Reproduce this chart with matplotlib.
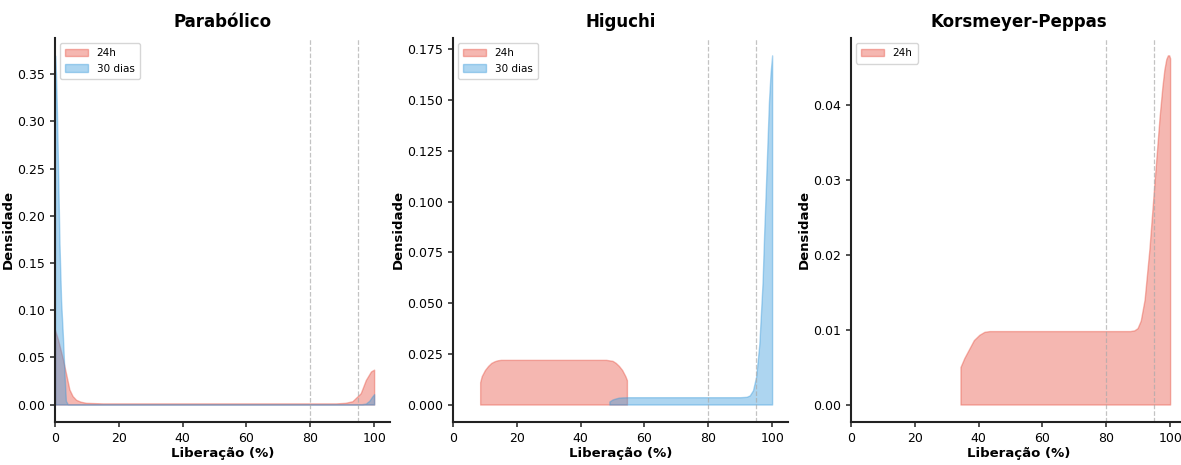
import numpy as np
import matplotlib
matplotlib.use("Agg")
import matplotlib.pyplot as plt

# density curves (x = Liberação %, y = densidade)
parab_24h_x = [0, 1, 2.4, 3.5, 4.5, 5.5, 6.6, 8, 9.7, 15, 50, 88, 91, 93.2, 95.8, 97.4, 99, 100]
parab_24h_y = [0.079, 0.068, 0.049, 0.032, 0.016, 0.009, 0.005, 0.003, 0.0018, 0.0012, 0.0012, 0.0012,
               0.0018, 0.0035, 0.012, 0.026, 0.035, 0.037]
parab_30d_x = [0, 0.3, 0.6, 1.0, 1.4, 1.9, 2.5, 3.0, 3.4, 4, 50, 96, 97.4, 98.5, 99.3, 100]
parab_30d_y = [0.37, 0.35, 0.31, 0.24, 0.17, 0.11, 0.07, 0.03, 0.004, 0.0003, 0.0003, 0.0003,
               0.001, 0.004, 0.008, 0.011]

hig_24h_x = [8.5, 9, 10, 11, 12, 13, 14, 15, 48, 50, 51, 52, 53, 54, 54.5]
hig_24h_y = [0.011, 0.014, 0.017, 0.019, 0.0205, 0.0213, 0.0218, 0.022, 0.022, 0.0215, 0.0205,
             0.019, 0.017, 0.014, 0.012]
hig_30d_x = [49, 50, 51, 52, 53, 55, 90, 92, 93, 94, 95, 96, 97, 97.5, 98, 99, 99.5, 100]
hig_30d_y = [0.0015, 0.0025, 0.003, 0.0034, 0.0035, 0.0036, 0.0036, 0.0038, 0.0045, 0.007, 0.0138,
             0.03, 0.06, 0.084, 0.105, 0.149, 0.163, 0.172]

kp_24h_x = [34.3, 35.5, 37, 38.5, 40.2, 41.8, 43.4, 60, 87.5, 88.8, 89.8, 90.8, 92, 93.5, 95.1,
            96.7, 97.6, 98.2, 98.8, 99.3, 99.7, 100]
kp_24h_y = [0.005, 0.0062, 0.0074, 0.0086, 0.0093, 0.0097, 0.0098, 0.0098, 0.0098, 0.0099, 0.0102,
            0.0112, 0.0140, 0.0207, 0.0296, 0.0384, 0.0425, 0.0447, 0.0461, 0.0466, 0.0466, 0.0462]

titles = ["Parabólico", "Higuchi", "Korsmeyer-Peppas"]
series = [
    [("24h", parab_24h_x, parab_24h_y), ("30 dias", parab_30d_x, parab_30d_y)],
    [("24h", hig_24h_x, hig_24h_y), ("30 dias", hig_30d_x, hig_30d_y)],
    [("24h", kp_24h_x, kp_24h_y)],
]
colors = {"24h": "#e74c3c", "30 dias": "#3498db"}
ref_lines = [80, 95]

fig = plt.figure(figsize=(11.81, 4.65), dpi=100)
lefts = [0.0466, 0.3836, 0.7206]
for i in range(3):
    ax = fig.add_axes([lefts[i], 0.0925, 0.2837, 0.826])
    for name, xs, ys in series[i]:
        ax.fill_between(xs, 0, ys, color=colors[name], alpha=0.4, linewidth=1, label=name)
    for v in ref_lines:
        ax.axvline(v, color="#aaaaaa", linestyle="--", linewidth=0.9, alpha=0.7)
    ax.set_xlim(0, 105)
    ax.set_xticks([0, 20, 40, 60, 80, 100])
    ax.set_title(titles[i], fontsize=12, fontweight="bold", pad=8)
    ax.set_xlabel("Liberação (%)", fontsize=9.5, fontweight="bold", labelpad=2)
    ax.set_ylabel("Densidade", fontsize=9.5, fontweight="bold", labelpad=2)
    ax.tick_params(labelsize=9, width=1.2, color="#333333")
    for s in ["top", "right"]:
        ax.spines[s].set_visible(False)
    for s in ["left", "bottom"]:
        ax.spines[s].set_linewidth(1.5)
        ax.spines[s].set_color("#222222")
    ax.legend(loc="upper left", fontsize=7.5, handlelength=2.2, borderpad=0.5)

fig.savefig("out.png", dpi=100)
